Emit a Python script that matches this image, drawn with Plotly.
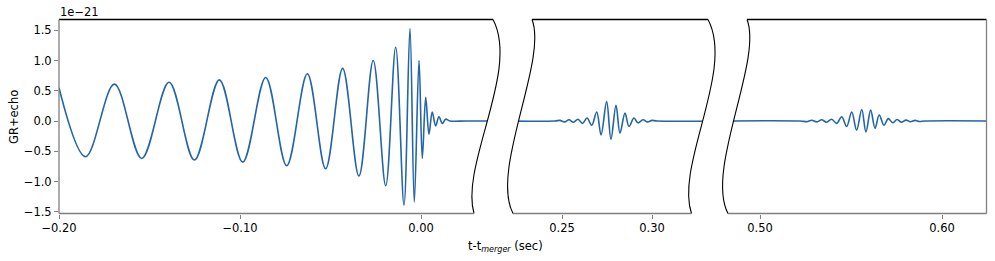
import plotly.graph_objects as go

# ---------------- data (strain in units of 1e-21) ----------------
# inspiral / merger / ringdown: extrema
t_merger = [-0.2000, -0.1853, -0.1694, -0.1543, -0.1392, -0.1252, -0.1114, -0.0985,
            -0.0858, -0.0742, -0.0628, -0.0527, -0.0433, -0.0343, -0.0264, -0.0195,
            -0.0140, -0.0094, -0.0061, -0.0037, -0.0011, 0.0007, 0.0026, 0.0044,
            0.0062, 0.0081, 0.0099, 0.0118, 0.0136, 0.0160, 0.0250, 0.0350, 0.0460]
h_merger = [0.55, -0.59, 0.61, -0.62, 0.64, -0.645, 0.68, -0.68,
            0.72, -0.74, 0.78, -0.79, 0.87, -0.91, 1.00, -1.07,
            1.22, -1.39, 1.53, -1.34, 1.00, -0.62, 0.39, -0.22,
            0.15, -0.08, 0.07, -0.04, 0.03, 0.00, 0.00, 0.00, 0.00]

# first echo
t_echo1 = [0.2150, 0.2460, 0.2489, 0.2514, 0.2539, 0.2564, 0.2589, 0.2614, 0.2639,
           0.2665, 0.2693, 0.2717, 0.2748, 0.2772, 0.2800, 0.2822, 0.2850, 0.2872,
           0.2900, 0.2922, 0.2950, 0.2975, 0.3000, 0.3028, 0.3400]
h_echo1 = [0.00, 0.00, 0.01, -0.015, 0.02, -0.02, 0.03, -0.04, 0.05,
           -0.07, 0.15, -0.23, 0.32, -0.30, 0.26, -0.20, 0.13, -0.09,
           0.05, -0.03, 0.02, -0.015, 0.01, 0.00, 0.00]

# second echo
t_echo2 = [0.4750, 0.5220, 0.5257, 0.5284, 0.5312, 0.5339, 0.5366, 0.5394, 0.5421,
           0.5449, 0.5476, 0.5504, 0.5531, 0.5559, 0.5582, 0.5608, 0.5632, 0.5655,
           0.5681, 0.5705, 0.5729, 0.5753, 0.5777, 0.5802, 0.5827, 0.5852, 0.5876,
           0.5907, 0.6300]
h_echo2 = [0.00, 0.00, -0.01, 0.012, -0.015, 0.02, -0.02, 0.03, -0.04,
           0.07, -0.09, 0.15, -0.15, 0.19, -0.18, 0.18, -0.12, 0.10,
           -0.07, 0.04, -0.03, 0.025, -0.02, 0.015, -0.012, 0.01, -0.008,
           0.00, 0.00]

x_ticks_1 = [-0.20, -0.10, 0.00]
x_ticks_2 = [0.25, 0.30]
x_ticks_3 = [0.50, 0.60]
y_ticks = [-1.5, -1.0, -0.5, 0.0, 0.5, 1.0, 1.5]

# ---------------- layout helpers ----------------
W, H = 995, 261
BLUE = "#2365a8"
GRAY = "#7f7f7f"
FONT = "DejaVu Sans"
FS = 11.5

def fx(px):
    return px / W

def fy(py):
    return 1 - py / H

TOP, BOT = 19.5, 213.5
Y_ZERO, Y_SCALE = 121.0, 60.5
y_range = [(Y_ZERO - BOT) / Y_SCALE, (Y_ZERO - TOP) / Y_SCALE]

def xr(dom, anchor_px, anchor_val, scale):
    return [anchor_val + (dom[0] - anchor_px) / scale, anchor_val + (dom[1] - anchor_px) / scale]

dom1, dom2, dom3 = (59, 503), (505, 720), (722, 986.5)
rng1 = xr(dom1, 59, -0.20, 1810)
rng2 = xr(dom2, 562, 0.25, 1800)
rng3 = xr(dom3, 760, 0.50, 1820)

fig = go.Figure()
line = dict(color=BLUE, width=1.6, shape="spline", smoothing=1.0)
fig.add_trace(go.Scatter(x=t_merger, y=h_merger, mode="lines", line=line, xaxis="x", yaxis="y", showlegend=False))
fig.add_trace(go.Scatter(x=t_echo1, y=h_echo1, mode="lines", line=line, xaxis="x2", yaxis="y", showlegend=False))
fig.add_trace(go.Scatter(x=t_echo2, y=h_echo2, mode="lines", line=line, xaxis="x3", yaxis="y", showlegend=False))

axis_common = dict(showgrid=False, zeroline=False, showline=False, ticks="outside", ticklen=4,
                   tickwidth=1, tickcolor=GRAY, tickfont=dict(family=FONT, size=FS, color="black"),
                   tickformat=".2f", fixedrange=True, automargin=False)

fig.update_layout(
    width=W, height=H, autosize=False,
    margin=dict(l=0, r=0, t=0, b=0, pad=0, autoexpand=False),
    paper_bgcolor="white", plot_bgcolor="white",
    font=dict(family=FONT, size=FS, color="black"),
    xaxis=dict(domain=[fx(dom1[0]), fx(dom1[1])], range=rng1, tickvals=x_ticks_1, anchor="y", **axis_common),
    xaxis2=dict(domain=[fx(dom2[0]), fx(dom2[1])], range=rng2, tickvals=x_ticks_2, anchor="y", **axis_common),
    xaxis3=dict(domain=[fx(dom3[0]), fx(dom3[1])], range=rng3, tickvals=x_ticks_3, anchor="y", **axis_common),
    yaxis=dict(domain=[fy(BOT), fy(TOP)], range=y_range, tickvals=y_ticks, anchor="x",
               showgrid=False, zeroline=False, showline=False, ticks="outside", ticklen=4,
               tickwidth=1, tickcolor=GRAY, tickformat=".1f", automargin=False,
               tickfont=dict(family=FONT, size=FS, color="black"), fixedrange=True),
)

# ---------------- break curves (pixel bezier control points) ----------------
R1 = [(493, TOP), (520, 70), (460, 165), (474, BOT)]   # right edge panel 1
L2 = [(532, TOP), (548, 60), (490, 170), (513, BOT)]   # left edge panel 2
R2 = [(708, TOP), (735, 70), (675, 165), (691.5, BOT)] # right edge panel 2
L3 = [(747, TOP), (763, 60), (705, 170), (728, BOT)]   # left edge panel 3

def p(pt):
    return f"{fx(pt[0]):.5f},{fy(pt[1]):.5f}"

def curve_path(c):
    return f"M {p(c[0])} C {p(c[1])} {p(c[2])} {p(c[3])}"

def mask_path(a, b):
    return (f"M {p(a[0])} C {p(a[1])} {p(a[2])} {p(a[3])} L {p(b[3])} "
            f"C {p(b[2])} {p(b[1])} {p(b[0])} Z")

shapes = []
for a, b in [(R1, L2), (R2, L3)]:
    shapes.append(dict(type="path", xref="paper", yref="paper", path=mask_path(a, b),
                       fillcolor="white", line=dict(width=0), layer="above"))
for c in [R1, L2, R2, L3]:
    shapes.append(dict(type="path", xref="paper", yref="paper", path=curve_path(c),
                       line=dict(color="black", width=1.1), layer="above"))

def hline(x0, x1, y, color):
    shapes.append(dict(type="line", xref="paper", yref="paper", x0=fx(x0), x1=fx(x1),
                       y0=fy(y), y1=fy(y), line=dict(color=color, width=1.3), layer="above"))

def vline(x, y0, y1, color):
    shapes.append(dict(type="line", xref="paper", yref="paper", x0=fx(x), x1=fx(x),
                       y0=fy(y0), y1=fy(y1), line=dict(color=color, width=1.3), layer="above"))

hline(59, R1[0][0], TOP, "black")
hline(L2[0][0], R2[0][0], TOP, "black")
hline(L3[0][0], 986.5, TOP, "black")
hline(59, R1[3][0], BOT, GRAY)
hline(L2[3][0], R2[3][0], BOT, GRAY)
hline(L3[3][0], 986.5, BOT, GRAY)
vline(59, TOP, BOT, GRAY)
vline(986.5, TOP, BOT, GRAY)

fig.update_layout(shapes=shapes)

fig.add_annotation(text="1e\u221221", xref="paper", yref="paper", x=fx(58), y=fy(12),
                   xanchor="left", yanchor="middle", showarrow=False,
                   font=dict(family=FONT, size=FS, color="black"))
fig.add_annotation(text="GR+echo", xref="paper", yref="paper", x=fx(14), y=fy(117),
                   xanchor="center", yanchor="middle", textangle=-90, showarrow=False,
                   font=dict(family=FONT, size=FS, color="black"))
fig.add_annotation(text="t-t<sub><i>merger</i></sub> (sec)", xref="paper", yref="paper",
                   x=fx(505), y=fy(246), xanchor="center", yanchor="middle", showarrow=False,
                   font=dict(family=FONT, size=FS, color="black"))

# remove the default 8px page margin so the figure fills the window exactly
fig.write_html("out.html", config={"displayModeBar": False, "staticPlot": True},
               post_script="document.body.style.margin='0';document.body.style.overflow='hidden';")
